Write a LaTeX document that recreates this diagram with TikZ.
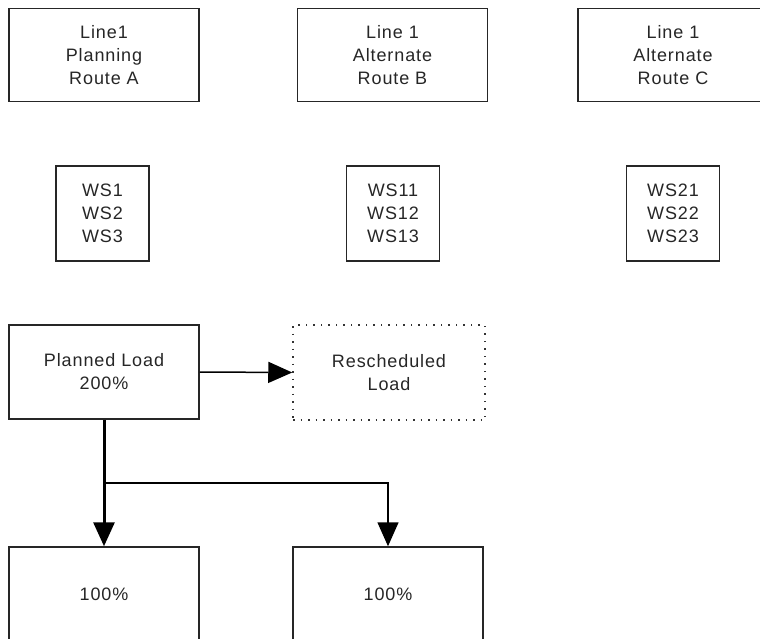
\documentclass[tikz,border=0pt]{standalone}
\usepackage{fontspec}
\setmainfont{Liberation Sans}
\newfontfamily\boxfont[LetterSpace=5]{Liberation Sans}
\usetikzlibrary{arrows.meta}
\begin{document}
\begin{tikzpicture}[x=1pt,y=-1pt,
  txt/.style={font=\boxfont\fontsize{18}{23}\selectfont, align=center, text=black!85},
  box/.style={txt, draw=black!85, line width=1.5pt, minimum width=190pt, minimum height=93pt, inner sep=0pt},
  wsbox/.style={txt, draw=black!85, line width=1.5pt, minimum width=93pt, minimum height=95pt, inner sep=0pt},
  dotbox/.style={txt, draw=black!80, line width=1.5pt, dash pattern=on 1.5pt off 6pt, minimum width=192pt, minimum height=95pt, inner sep=0pt},
  tip/.style={-{Triangle[length=24pt,width=21pt]}},
  thin/.style={line width=1.5pt, draw=black},
  thick/.style={line width=3pt, draw=black}]
\useasboundingbox (0,0) rectangle (760,639);

% route headers
\node[box] (ra) at (104,55) {Line1\\Planning\\Route A};
\node[box] (rb) at (392.5,55) {Line 1\\Alternate\\Route B};
\node[box] (rc) at (673,55) {Line 1\\Alternate\\Route C};

% workstation lists
\node[wsbox] (wa) at (102.5,213.5) {WS1\\WS2\\WS3};
\node[wsbox] (wb) at (393,213.5) {WS11\\WS12\\WS13};
\node[wsbox] (wc) at (673,213.5) {WS21\\WS22\\WS23};

% load boxes
\node[box, minimum height=94pt] (pl) at (104,372) {Planned Load\\200\%};
\node[dotbox] (rl) at (389,372.5) {Rescheduled\\Load};
\node[box, minimum height=95pt] (la) at (104,594.5) {100\%};
\node[box, minimum height=95pt] (lb) at (388,594.5) {100\%};

% connectors
\coordinate (split) at (104,483);
\draw[thin, tip] (pl.east) -- (rl.west);
\draw[thick, tip] (pl.south) -- (la.north);
\draw[thin, tip] (split) -| (lb.north);
\end{tikzpicture}
\end{document}
